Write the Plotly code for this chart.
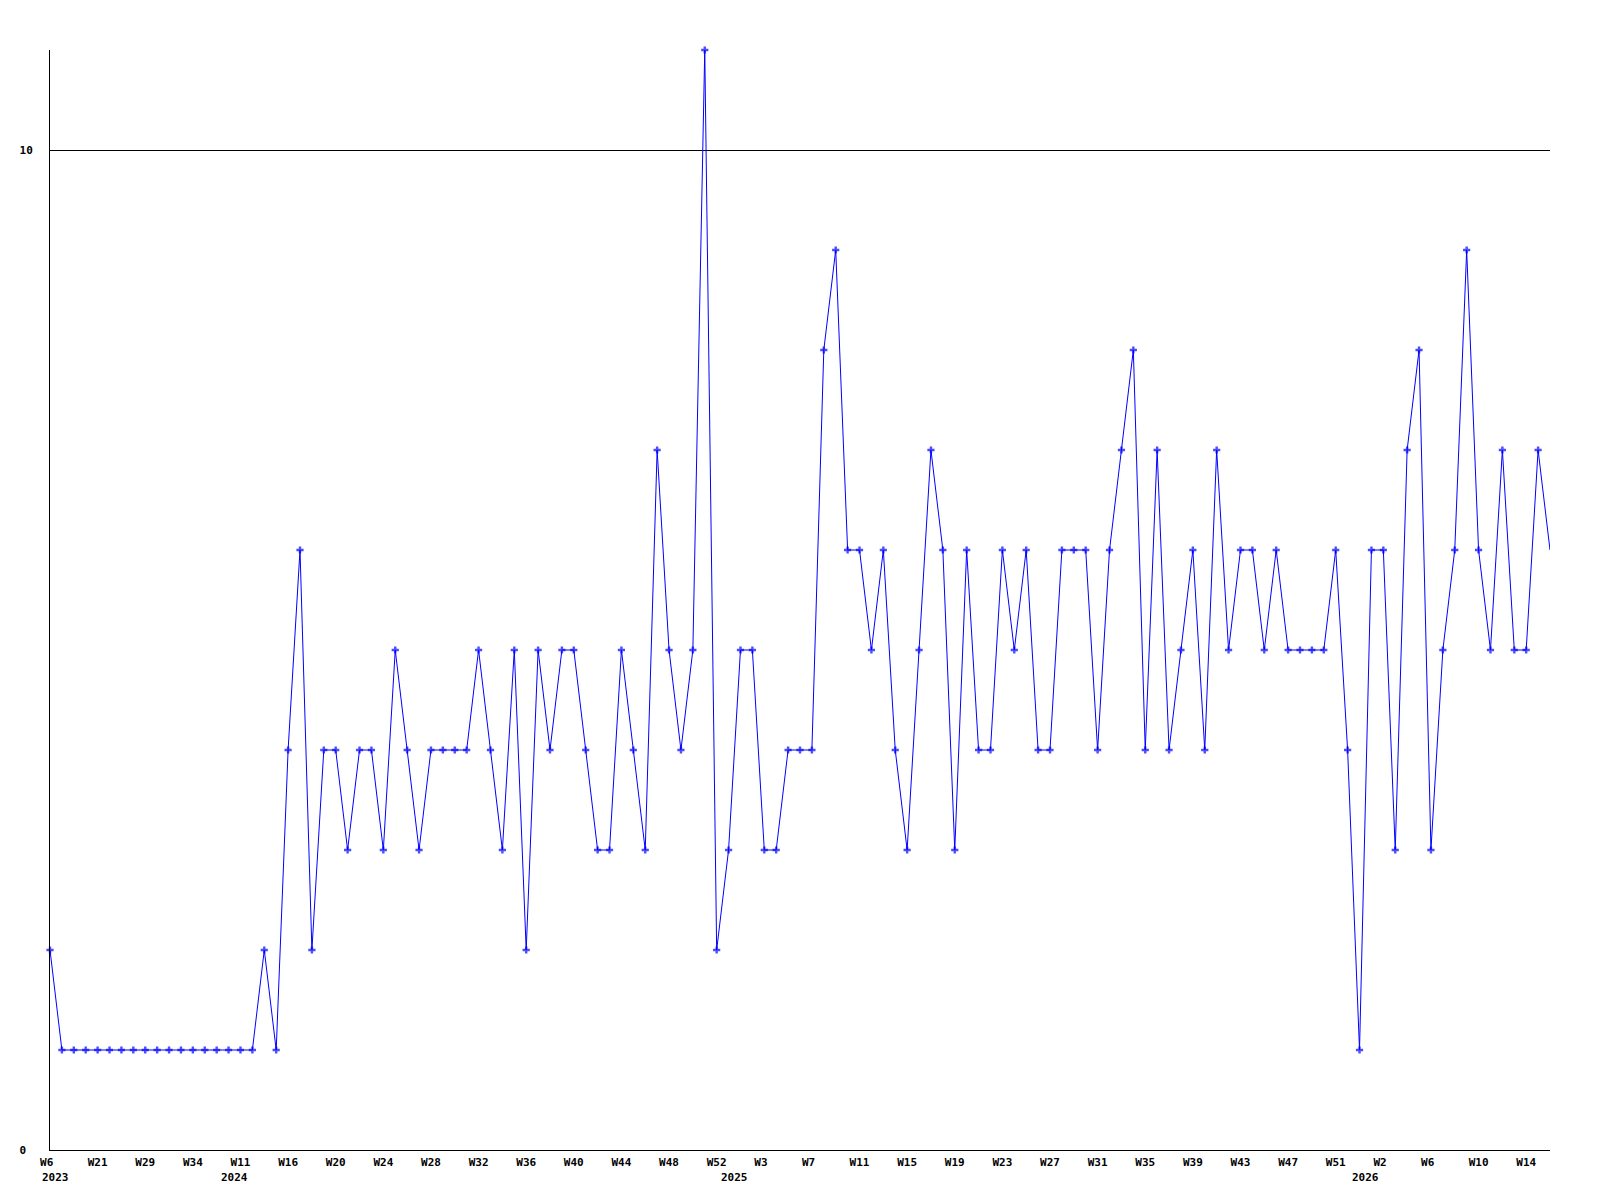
import plotly.graph_objects as go

# Weekly values (one per plotted week, left to right)
values = [
    2,
    1, 1, 1, 1, 1, 1, 1, 1, 1, 1, 1, 1, 1, 1, 1, 1, 1,
    2, 1, 4, 6, 2, 4, 4, 3, 4, 4, 3, 5, 4, 3, 4, 4, 4, 4, 5, 4, 3, 5,
    2, 5, 4, 5, 5, 4, 3, 3, 5, 4, 3, 7, 5, 4, 5, 11, 2, 3, 5, 5,
    3, 3, 4, 4, 4, 8, 9, 6, 6, 5, 6, 4, 3, 5, 7, 6, 3, 6, 4, 4,
    6, 5, 6, 4, 4, 6, 6, 6, 4, 6, 7, 8, 4, 7, 4, 5, 6, 4, 7, 5,
    6, 6, 5, 6, 5, 5, 5, 5, 6, 4, 1, 6, 6, 3, 7, 8, 3, 5, 6, 9,
    6, 5, 7, 5, 5, 7, 6,
]

# Week tick labels, shown on every 4th week
week_ticks = ["W6", "W21", "W29", "W34", "W11", "W16", "W20", "W24", "W28", "W32",
              "W36", "W40", "W44", "W48", "W52", "W3", "W7", "W11", "W15", "W19",
              "W23", "W27", "W31", "W35", "W39", "W43", "W47", "W51", "W2", "W6",
              "W10", "W14"]
tick_step = 4

# Year labels and the week index where each year starts
years = ["2023", "2024", "2025", "2026"]
year_start_index = [0, 15, 57, 110]

y_ticks = [0, 10]
y_tick_text = ["0", "10"]

x = list(range(len(values)))
FONT = dict(family="DejaVu Sans Mono", size=11, color="black", weight="bold")

sizes = [6] * len(values)
sizes[-1] = 0

fig = go.Figure()
fig.add_trace(go.Scatter(
    x=x, y=values, mode="lines+markers",
    line=dict(color="#0000ff", width=1),
    marker=dict(symbol="cross", size=sizes, color="#0000ff", line=dict(width=0)),
    cliponaxis=False,
    showlegend=False,
))

for yr, idx in zip(years, year_start_index):
    fig.add_annotation(
        x=idx, xref="x", y=0, yref="paper", yshift=-27,
        text=yr, showarrow=False, xanchor="left", yanchor="middle",
        xshift=-10, font=FONT,
    )

fig.update_layout(
    width=1584, height=1184,
    margin=dict(l=42, r=42, t=42, b=42),
    paper_bgcolor="white", plot_bgcolor="white",
    font=FONT,
    xaxis=dict(
        range=[0, len(values) - 1],
        tickvals=x[::tick_step],
        ticktext=[t.ljust(3, "\u00a0") for t in week_ticks],
        tickangle=0,
        showgrid=False, zeroline=False,
        showline=True, linecolor="black", linewidth=1,
        ticks="", ticklabelstandoff=2,
        tickfont=FONT,
    ),
    yaxis=dict(
        range=[0, 11],
        tickvals=y_ticks,
        ticktext=[t.ljust(2, "\u00a0") for t in y_tick_text],
        showgrid=True, gridcolor="black", gridwidth=1,
        zeroline=False,
        showline=True, linecolor="black", linewidth=1,
        ticks="", ticklabelstandoff=14,
        tickfont=FONT,
    ),
)

fig.write_html("out.html")
